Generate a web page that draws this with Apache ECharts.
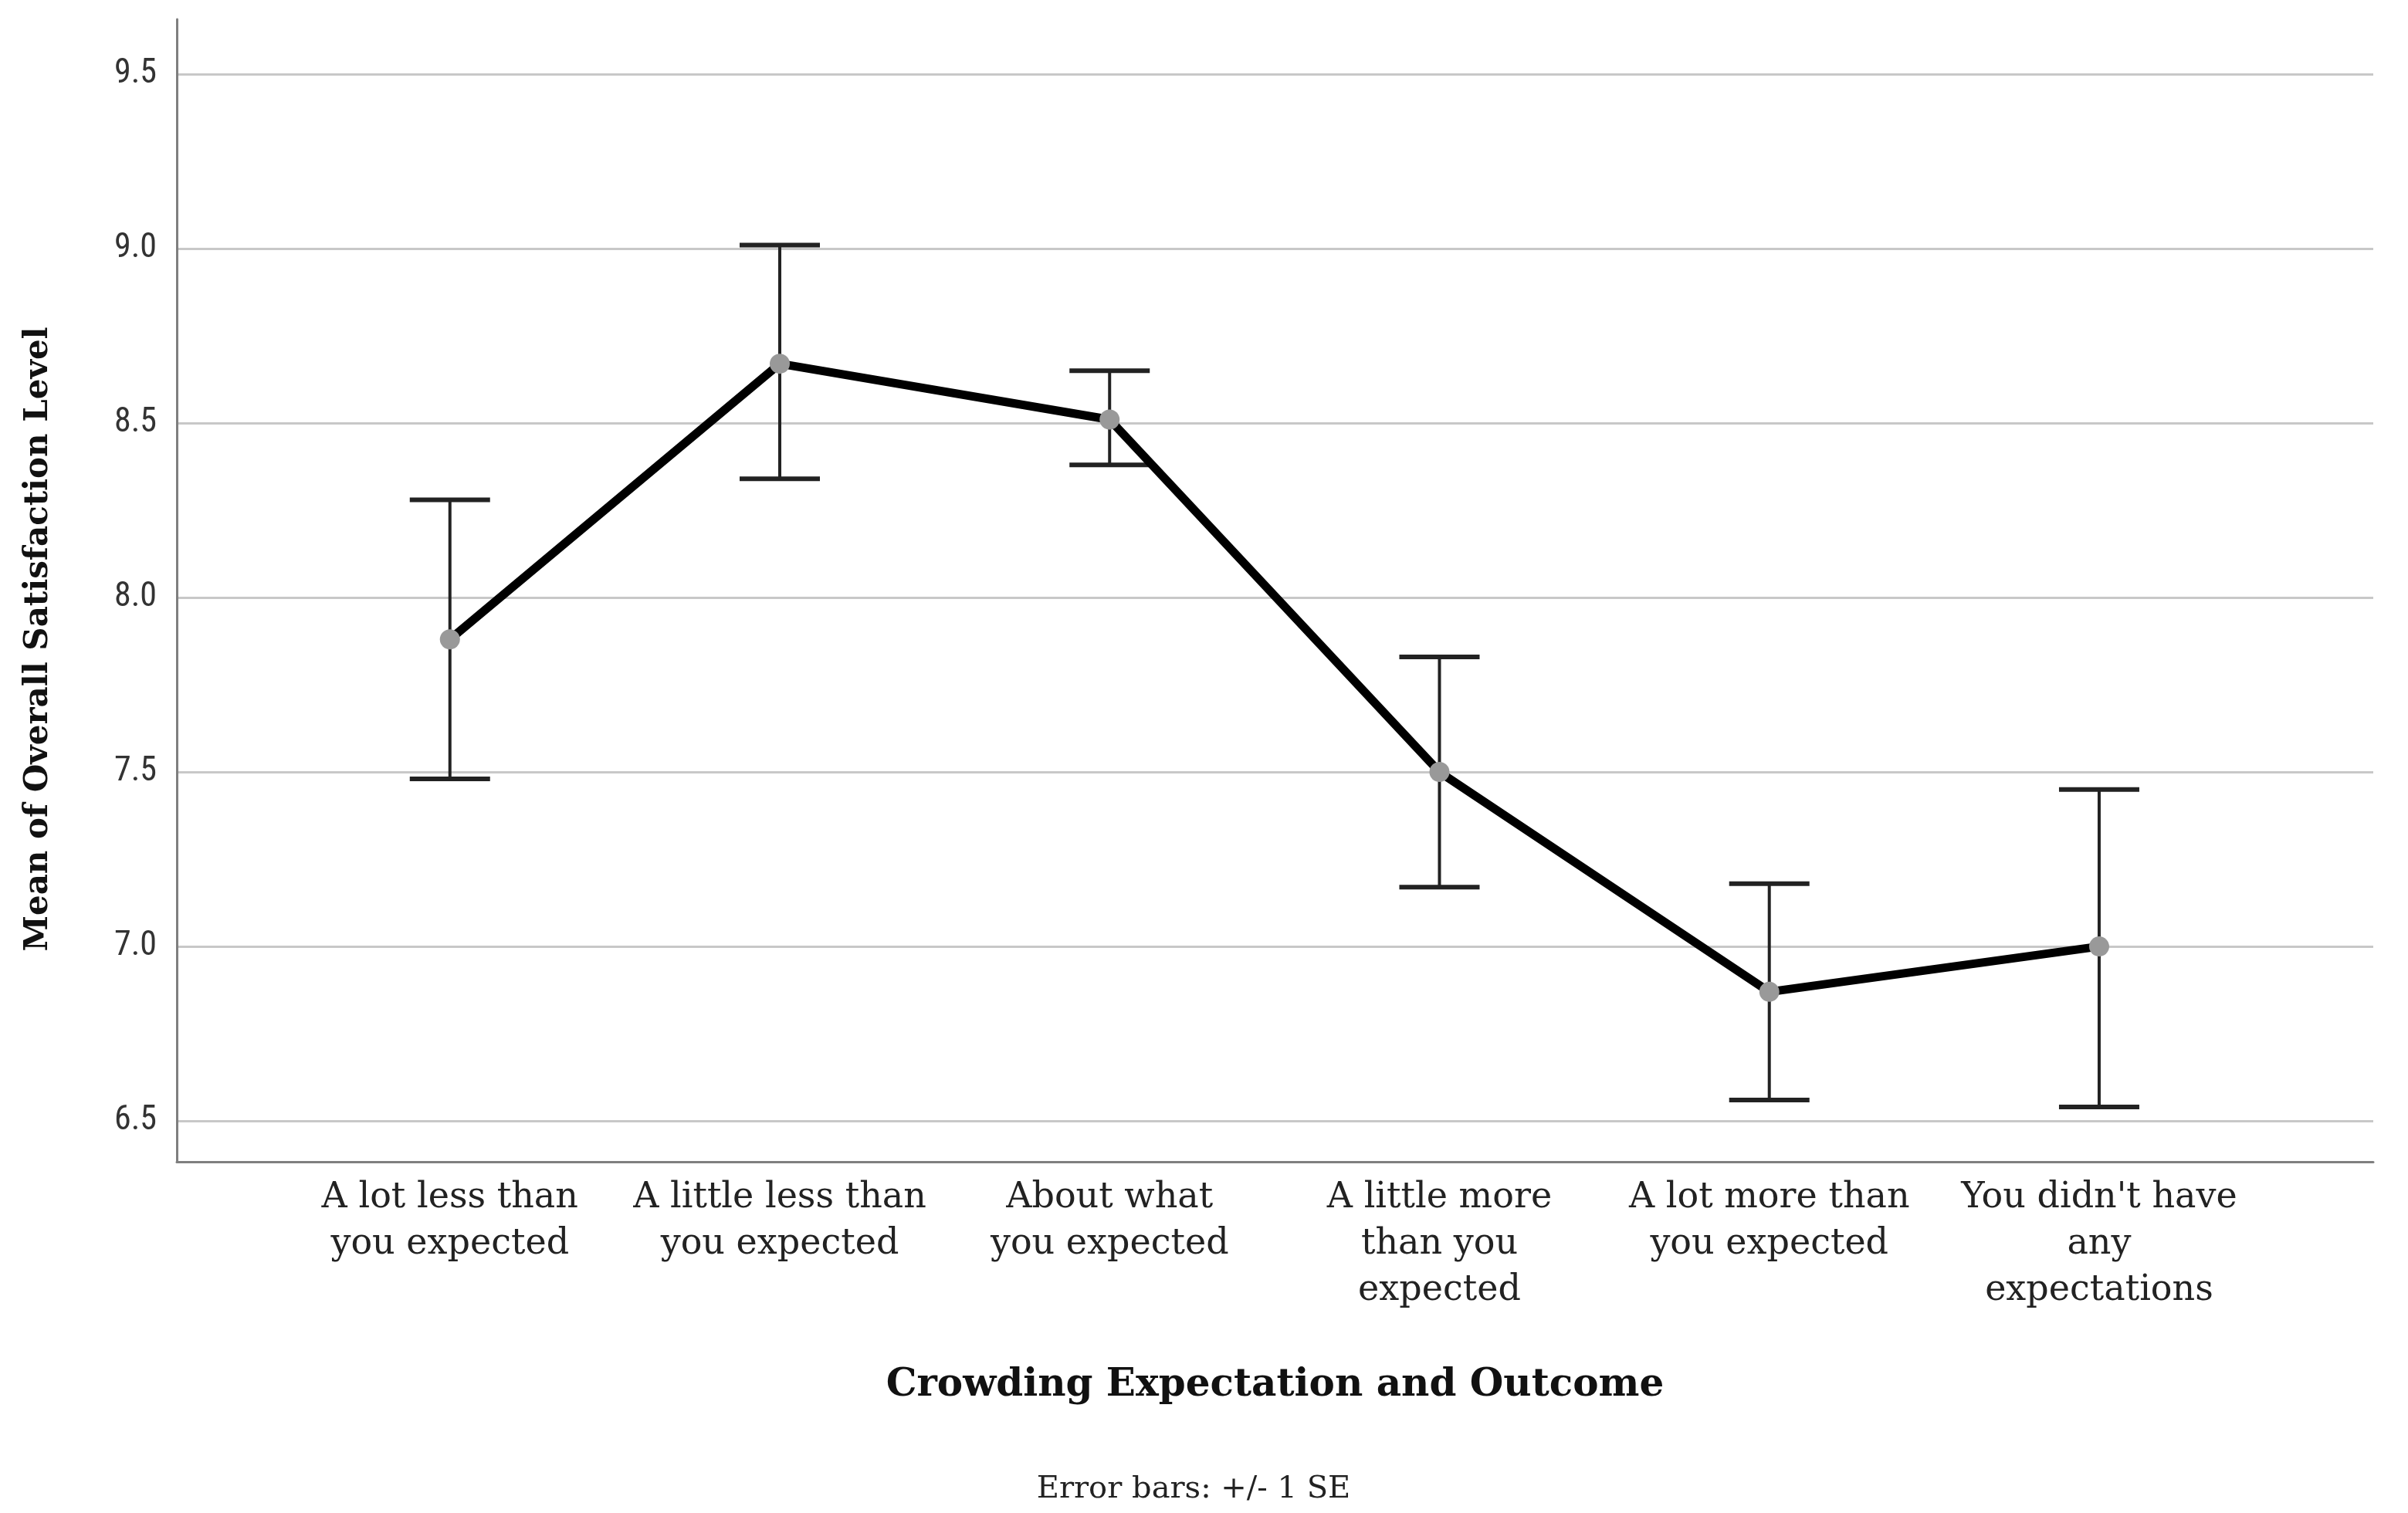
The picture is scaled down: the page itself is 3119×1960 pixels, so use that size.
<!DOCTYPE html>
<html>
<head>
<meta charset="utf-8">
<script src="https://cdn.jsdelivr.net/npm/echarts@6/dist/echarts.min.js"></script>
<style>
html,body{margin:0;padding:0;background:#fff;}
#chart{width:3119px;height:1960px;}
</style>
</head>
<body>
<div id="chart"></div>
<script>
// ---- data ----
const categories = [
  "A lot less than\nyou expected",
  "A little less than\nyou expected",
  "About what\nyou expected",
  "A little more\nthan you\nexpected",
  "A lot more than\nyou expected",
  "You didn't have\nany\nexpectations"
];
const means = [7.88, 8.67, 8.51, 7.50, 6.87, 7.00];
const upperSE = [8.28, 9.01, 8.65, 7.83, 7.18, 7.45];
const lowerSE = [7.48, 8.34, 8.38, 7.17, 6.56, 6.54];
const yTicks = [6.5, 7.0, 7.5, 8.0, 8.5, 9.0, 9.5];
const xTicks = [0, 1, 2, 3, 4, 5];

const lineData = means.map((v, i) => [i, v]);
const errData = means.map((v, i) => [i, lowerSE[i], upperSE[i]]);

const chart = echarts.init(document.getElementById('chart'), null, {renderer: 'canvas'});

const option = {
  backgroundColor: '#ffffff',
  animation: false,
  grid: {left: 229, right: 45, top: 25, bottom: 455, containLabel: false},
  xAxis: {
    type: 'value',
    min: -0.828,
    max: 5.831,
    name: 'Crowding Expectation and Outcome',
    nameLocation: 'middle',
    nameGap: 265,
    nameTextStyle: {fontFamily: 'DejaVu Serif', fontWeight: 'bold', fontSize: 50, color: '#111'},
    axisLine: {show: true, onZero: false, lineStyle: {color: '#7f7f7f', width: 3}},
    axisTick: {show: false, customValues: xTicks},
    splitLine: {show: false},
    axisLabel: {
      customValues: xTicks,
      formatter: v => categories[Math.round(v)] || '',
      fontFamily: 'DejaVu Serif',
      fontSize: 46,
      lineHeight: 60,
      color: '#222',
      margin: 17,
      align: 'center',
      verticalAlign: 'top'
    }
  },
  yAxis: {
    type: 'value',
    min: 6.383,
    max: 9.657,
    axisLine: {show: true, onZero: false, lineStyle: {color: '#7f7f7f', width: 3}},
    axisTick: {show: false, customValues: yTicks},
    splitLine: {show: true, lineStyle: {color: '#c8c8c8', width: 3}},
    axisLabel: {
      customValues: yTicks,
      formatter: v => v.toFixed(1),
      fontFamily: "'Liberation Sans Narrow', 'Roboto Condensed', Roboto, sans-serif",
      fontSize: 44,
      color: '#333',
      margin: 26
    }
  },
  series: [
    {
      type: 'custom',
      z: 2,
      data: errData,
      renderItem: function (params, api) {
        const x = api.value(0);
        const lo = api.coord([x, api.value(1)]);
        const hi = api.coord([x, api.value(2)]);
        const cap = 52;
        return {
          type: 'group',
          children: [
            {type: 'line', shape: {x1: lo[0], y1: lo[1], x2: hi[0], y2: hi[1]}, style: {stroke: '#222', lineWidth: 4}},
            {type: 'line', shape: {x1: hi[0] - cap, y1: hi[1], x2: hi[0] + cap, y2: hi[1]}, style: {stroke: '#222', lineWidth: 6}},
            {type: 'line', shape: {x1: lo[0] - cap, y1: lo[1], x2: lo[0] + cap, y2: lo[1]}, style: {stroke: '#222', lineWidth: 6}}
          ]
        };
      }
    },
    {
      type: 'line',
      z: 3,
      data: lineData,
      symbol: 'circle',
      symbolSize: 26,
      lineStyle: {color: '#000', width: 11},
      itemStyle: {color: '#999999'}
    }
  ],
  graphic: [
    {
      type: 'text',
      x: 50,
      y: 828,
      rotation: Math.PI / 2,
      style: {
        text: 'Mean of Overall Satisfaction Level',
        font: 'bold 42px "DejaVu Serif"',
        fill: '#111',
        align: 'center',
        verticalAlign: 'middle'
      }
    },
    {
      type: 'text',
      x: 1546,
      y: 1930,
      style: {
        text: 'Error bars: +/- 1 SE',
        font: '40px "DejaVu Serif"',
        fill: '#222',
        align: 'center',
        verticalAlign: 'middle'
      }
    }
  ]
};
chart.setOption(option);
</script>
</body>
</html>
